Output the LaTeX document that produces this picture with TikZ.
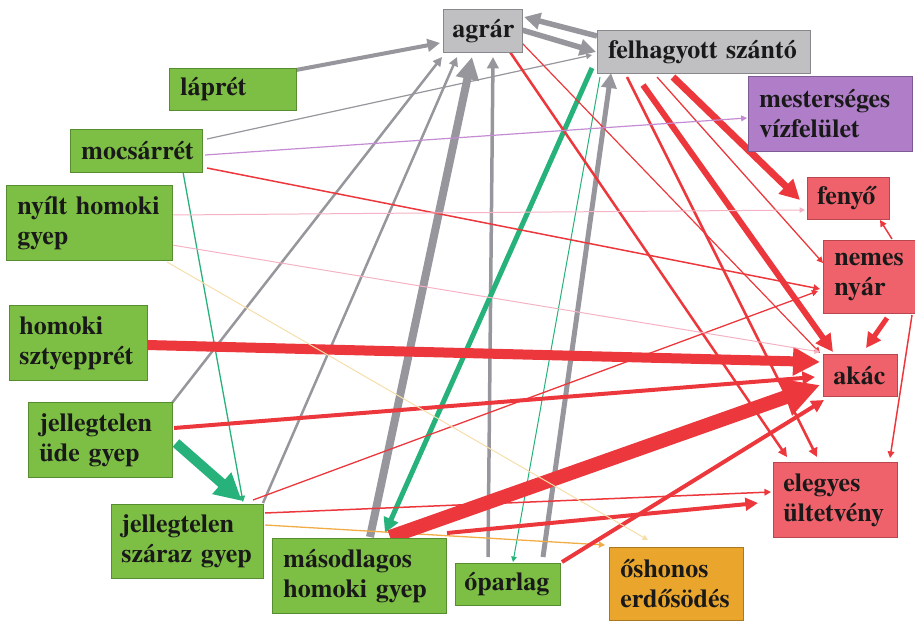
\documentclass[tikz,border=0pt]{standalone}
\usepackage{fontspec}
\newfontfamily\boxfont{texgyretermes}[Extension=.otf, UprightFont=*-regular, BoldFont=*-bold]
\usetikzlibrary{arrows.meta,calc}
\pgfdeclarelayer{edges}
\pgfsetlayers{edges,main}

% box fills and outlines
\definecolor{boxgreen}{RGB}{125,190,68}
\definecolor{boxgreenline}{RGB}{88,140,48}
\definecolor{boxgray}{RGB}{192,192,195}
\definecolor{boxgrayline}{RGB}{135,135,140}
\definecolor{boxred}{RGB}{239,98,107}
\definecolor{boxredline}{RGB}{185,72,78}
\definecolor{boxpurple}{RGB}{176,126,200}
\definecolor{boxpurpleline}{RGB}{125,90,145}
\definecolor{boxorange}{RGB}{234,166,44}
\definecolor{boxorangeline}{RGB}{170,120,30}
% connector colours
\definecolor{edgegray}{RGB}{150,150,156}
\definecolor{edgered}{RGB}{236,56,60}
\definecolor{edgeteal}{RGB}{38,178,122}
\definecolor{edgepink}{RGB}{244,178,196}
\definecolor{edgeorange}{RGB}{242,172,70}
\definecolor{edgefaint}{RGB}{246,222,170}
\definecolor{edgepurple}{RGB}{196,140,210}

\tikzset{
  box/.style={anchor=north west, inner xsep=11pt, inner ysep=0pt, align=left,
    font=\boxfont\fontsize{26}{30}\selectfont\bfseries, text=black!90, line width=0.8pt},
  greenbox/.style={box, fill=boxgreen, draw=boxgreenline},
  graybox/.style={box, fill=boxgray, draw=boxgrayline},
  redbox/.style={box, fill=boxred, draw=boxredline},
  purplebox/.style={box, fill=boxpurple, draw=boxpurpleline},
  orangebox/.style={box, fill=boxorange, draw=boxorangeline},
  link/.style={line width=#1, -{Triangle[length=3pt 2.4, width=3pt 2.4]}},
  gl/.style={link=#1, draw=edgegray},
  rl/.style={link=#1, draw=edgered},
  tl/.style={link=#1, draw=edgeteal},
  pl/.style={link=#1, draw=edgepink},
  ol/.style={link=#1, draw=edgeorange},
  fl/.style={link=#1, draw=edgefaint},
  ul/.style={link=#1, draw=edgepurple},
}

\begin{document}
\begin{tikzpicture}[x=1pt, y=-1pt]
\useasboundingbox (0,0) rectangle (915,621);

% land-use categories
\node[graybox, minimum width=79pt, minimum height=43pt, text width=61pt, inner xsep=9pt] (agrar) at (443,9) {agrár};
\node[graybox, minimum width=213pt, minimum height=43pt, text width=191pt] (felh) at (597,30) {felhagyott szántó};
\node[greenbox, minimum width=127pt, minimum height=42pt, text width=105pt] (laap) at (169,68) {láprét};
\node[greenbox, minimum width=132pt, minimum height=43pt, text width=110pt] (mocs) at (70,129) {mocsárrét};
\node[greenbox, minimum width=166pt, minimum height=75pt, text width=144pt] (nyilt) at (6,185) {nyílt homoki\\gyep};
\node[purplebox, minimum width=164pt, minimum height=75pt, text width=142pt] (mest) at (748,76) {mesterséges\\vízfelület};
\node[redbox, minimum width=82pt, minimum height=42pt, text width=62pt, inner xsep=10pt] (feny) at (807,177) {fenyő};
\node[redbox, minimum width=100pt, minimum height=73pt, text width=78pt] (nemes) at (823,240) {nemes\\nyár};
\node[redbox, minimum width=74pt, minimum height=42pt, text width=54pt, inner xsep=10pt] (akac) at (823,354) {akác};
\node[redbox, minimum width=124pt, minimum height=75pt, text width=104pt, inner xsep=10pt] (eleg) at (773,462) {elegyes\\ültetvény};
\node[orangebox, minimum width=134pt, minimum height=73pt, text width=112pt] (oshon) at (609,547) {őshonos\\erdősödés};
\node[greenbox, minimum width=105pt, minimum height=42pt, text width=87pt, inner xsep=9pt] (opar) at (455,563) {óparlag};
\node[greenbox, minimum width=174pt, minimum height=75pt, text width=152pt] (masod) at (272,538) {másodlagos\\homoki gyep};
\node[greenbox, minimum width=152pt, minimum height=74pt, text width=132pt, inner xsep=10pt] (jszar) at (111,504) {jellegtelen\\száraz gyep};
\node[greenbox, minimum width=144pt, minimum height=75pt, text width=122pt] (jude) at (28,402) {jellegtelen\\üde gyep};
\node[greenbox, minimum width=138pt, minimum height=75pt, text width=118pt, inner xsep=10pt] (homsz) at (9,305) {homoki\\sztyepprét};

\begin{pgfonlayer}{edges}
% towards agrár and felhagyott szántó
\draw[gl=4]   ($(laap.north west)+(127,2)$)   -- ($(agrar.north west)+(-3,34)$);
\draw[gl=5.5] ($(felh.north west)+(0,6)$)     -- ($(agrar.north west)+(81,8)$);
\draw[gl=5.5] ($(agrar.north west)+(79,21)$)  -- ($(felh.north west)+(-1,22)$);
\draw[gl=1.2] ($(mocs.north west)+(137,10)$)  -- ($(felh.north west)+(-5,25)$);
\draw[gl=2.5] ($(jude.north west)+(144,1)$)   -- ($(agrar.north west)+(-1,48)$);
\draw[gl=2.5] ($(jszar.north west)+(152,-1)$) -- ($(agrar.north west)+(14,48)$);
\draw[gl=8]   ($(masod.north west)+(98,-1)$)  -- ($(agrar.north west)+(29,48)$);
\draw[gl=3.5] ($(opar.north west)+(33,-6)$)   -- ($(agrar.north west)+(50,48)$);
\draw[gl=5]   ($(opar.north west)+(88,-6)$)   -- ($(felh.north west)+(14,43)$);

% grassland successions
\draw[tl=1.3] ($(mocs.north west)+(113,43)$)  -- ($(jszar.north west)+(132,-2)$);
\draw[tl=10]  ($(jude.north west)+(148,41)$)  -- ($(jszar.north west)+(131,-3)$);
\draw[tl=5]   ($(felh.north west)+(-5,38)$)   -- ($(masod.north west)+(113,-5)$);
\draw[tl=1]   ($(felh.north west)+(3,47)$)    -- ($(opar.north west)+(58,-1)$);

% afforestation
\draw[rl=10]  ($(homsz.north west)+(138,40)$) -- ($(akac.north west)+(-3,8)$);
\draw[rl=4]   ($(jude.north west)+(146,26)$)  -- ($(akac.north west)+(-8,23)$);
\draw[rl=1.3] ($(jszar.north west)+(142,-4)$) -- ($(nemes.north west)+(-5,51)$);
\draw[rl=1.5] ($(jszar.north west)+(154,9)$)  -- ($(eleg.north west)+(-2,30)$);
\draw[ol=1.3] ($(jszar.north west)+(154,21)$) -- ($(oshon.north west)+(-4,-2)$);
\draw[rl=14]  ($(masod.north west)+(118,-1)$) -- ($(akac.north west)+(-3,31)$);
\draw[rl=4]   ($(masod.north west)+(175,-5)$) -- ($(eleg.north west)+(-15,41)$);
\draw[rl=4]   ($(opar.north west)+(107,-1)$)  -- ($(akac.north west)+(1,46)$);
\draw[rl=2.5] ($(agrar.north west)+(67,43)$)  -- ($(eleg.north west)+(14,-5)$);
\draw[rl=1.2] ($(agrar.north west)+(79,34)$)  -- ($(akac.north west)+(-3,-1)$);
\draw[rl=7]   ($(felh.north west)+(76,47)$)   -- ($(feny.north west)+(-7,23)$);
\draw[rl=1.3] ($(felh.north west)+(60,47)$)   -- ($(nemes.north west)+(0,23)$);
\draw[rl=6]   ($(felh.north west)+(46,55)$)   -- ($(akac.north west)+(10,-2)$);
\draw[rl=2.5] ($(felh.north west)+(30,47)$)   -- ($(eleg.north west)+(44,-5)$);
\draw[rl=1.5] ($(mocs.north west)+(137,39)$)  -- ($(nemes.north west)+(-3,49)$);
\draw[pl=1]   ($(nyilt.north west)+(166,30)$) -- ($(feny.north west)+(-2,33)$);
\draw[pl=1]   ($(nyilt.north west)+(166,60)$) -- ($(akac.north west)+(-3,-2)$);
\draw[fl=1]   ($(nyilt.north west)+(161,77)$) -- ($(oshon.north west)+(39,-7)$);
\draw[ul=1.2] ($(mocs.north west)+(135,26)$)  -- ($(mest.north west)+(-1,42)$);
\draw[rl=1.5] ($(nemes.north west)+(69,-1)$)  -- ($(feny.north west)+(73,43)$);
\draw[rl=5]   ($(nemes.north west)+(64,78)$)  -- ($(akac.north west)+(43,-6)$);
\draw[rl=1.5] ($(nemes.north west)+(89,75)$)  -- ($(eleg.north west)+(117,-4)$);
\end{pgfonlayer}
\end{tikzpicture}
\end{document}
